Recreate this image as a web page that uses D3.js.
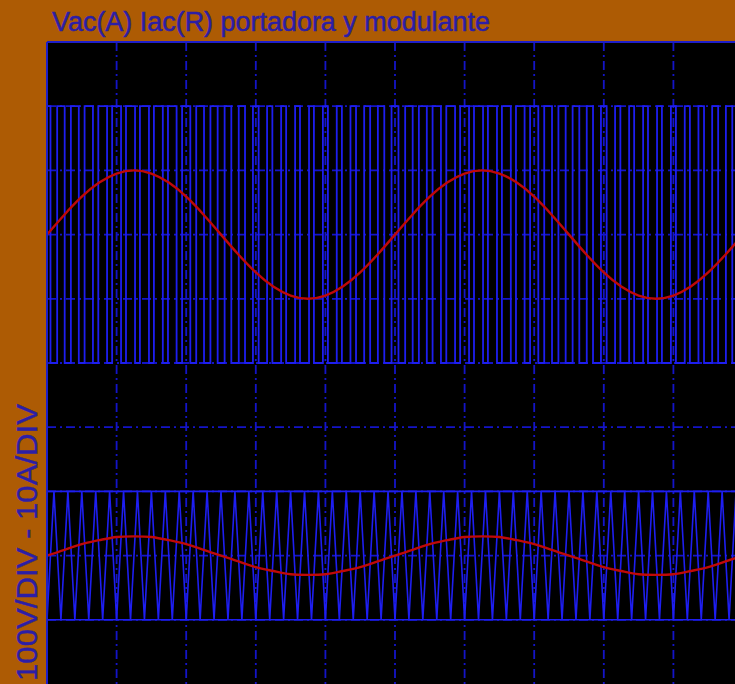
<!DOCTYPE html>
<html>
<head>
<meta charset="utf-8">
<script src="https://cdn.jsdelivr.net/npm/d3@7"></script>
<style>
  body { margin: 0; background: #ad5b04; }
  svg { display: block; }
</style>
</head>
<body>
<svg id="scope" width="735" height="684"></svg>
<script>
// time axis in divisions (10 div across the screen)
var sampleX = [0, 0.25, 0.5, 0.75, 1, 1.25, 1.5, 1.75, 2, 2.25, 2.5, 2.75, 3, 3.25, 3.5, 3.75, 4, 4.25, 4.5, 4.75,
  5, 5.25, 5.5, 5.75, 6, 6.25, 6.5, 6.75, 7, 7.25, 7.5, 7.75, 8, 8.25, 8.5, 8.75, 9, 9.25, 9.5, 9.75, 10];

// red traces, read in screen divisions
var iacUpper = [2.00, 2.31, 2.59, 2.81, 2.95, 3.00, 2.95, 2.81, 2.59, 2.31, 2.00, 1.69, 1.41, 1.19, 1.05, 1.00, 1.05, 1.19, 1.41, 1.69,
  2.00, 2.31, 2.59, 2.81, 2.95, 3.00, 2.95, 2.81, 2.59, 2.31, 2.00, 1.69, 1.41, 1.19, 1.05, 1.00, 1.05, 1.19, 1.41, 1.69, 2.00];
var modulante = [-3.00, -2.91, -2.82, -2.76, -2.71, -2.70, -2.71, -2.76, -2.82, -2.91, -3.00, -3.09, -3.18, -3.24, -3.29, -3.30, -3.29, -3.24, -3.18, -3.09,
  -3.00, -2.91, -2.82, -2.76, -2.71, -2.70, -2.71, -2.76, -2.82, -2.91, -3.00, -3.09, -3.18, -3.24, -3.29, -3.30, -3.29, -3.24, -3.18, -3.09, -3.00];

// Vac switching instants (div), trace starts at the high level
var vacEdges = [0.050, 0.146, 0.254, 0.343, 0.457, 0.540, 0.660, 0.737, 0.863, 0.936, 1.064, 1.135, 1.265, 1.335, 1.465, 1.536, 1.664, 1.738, 1.862,
  1.941, 2.059, 2.144, 2.256, 2.348, 2.452, 2.552, 2.648, 2.755, 2.845, 2.959, 3.041, 3.162, 3.238, 3.364, 3.436, 3.565, 3.635, 3.765, 3.835,
  3.964, 4.036, 4.163, 4.237, 4.360, 4.440, 4.557, 4.643, 4.754, 4.846, 4.950, 5.050, 5.146, 5.254, 5.343, 5.457, 5.540, 5.660, 5.737, 5.863,
  5.936, 6.064, 6.135, 6.265, 6.335, 6.465, 6.536, 6.664, 6.738, 6.862, 6.941, 7.059, 7.144, 7.256, 7.348, 7.452, 7.552, 7.648, 7.755, 7.845,
  7.959, 8.041, 8.162, 8.238, 8.364, 8.436, 8.565, 8.635, 8.765, 8.835, 8.964, 9.036, 9.163, 9.237, 9.360, 9.440, 9.557, 9.643, 9.754, 9.846, 9.950];
var vacHigh = 4, vacLow = 0;

// carrier (portadora) vertices, alternating trough / peak
var carrierX = [0, 0.1, 0.2, 0.3, 0.4, 0.5, 0.6, 0.7, 0.8, 0.9, 1, 1.1, 1.2, 1.3, 1.4, 1.5, 1.6, 1.7, 1.8, 1.9,
  2, 2.1, 2.2, 2.3, 2.4, 2.5, 2.6, 2.7, 2.8, 2.9, 3, 3.1, 3.2, 3.3, 3.4, 3.5, 3.6, 3.7, 3.8, 3.9,
  4, 4.1, 4.2, 4.3, 4.4, 4.5, 4.6, 4.7, 4.8, 4.9, 5, 5.1, 5.2, 5.3, 5.4, 5.5, 5.6, 5.7, 5.8, 5.9,
  6, 6.1, 6.2, 6.3, 6.4, 6.5, 6.6, 6.7, 6.8, 6.9, 7, 7.1, 7.2, 7.3, 7.4, 7.5, 7.6, 7.7, 7.8, 7.9,
  8, 8.1, 8.2, 8.3, 8.4, 8.5, 8.6, 8.7, 8.8, 8.9, 9, 9.1, 9.2, 9.3, 9.4, 9.5, 9.6, 9.7, 9.8, 9.9, 10];
var carrierLow = -4, carrierHigh = -2;

var gridX = [1, 2, 3, 4, 5, 6, 7, 8, 9];
var gridY = [-4, -3, -2, -1, 0, 1, 2, 3, 4];

var titleText = "Vac(A) Iac(R) portadora y modulante";
var axisText = "100V/DIV - 10A/DIV";

var svg = d3.select("svg#scope");
var x = d3.scaleLinear().domain([0, 10]).range([47, 743]);
var y = d3.scaleLinear().domain([-5, 5]).range([684, 42]);

svg.append("rect")
   .attr("x", x(0)).attr("y", y(5))
   .attr("width", x(10) - x(0)).attr("height", y(-5) - y(5))
   .attr("fill", "#000");

svg.append("clipPath").attr("id", "screen")
   .append("rect")
   .attr("x", x(0)).attr("y", y(5))
   .attr("width", x(10) - x(0)).attr("height", y(-5) - y(5));

var screen = svg.append("g").attr("clip-path", "url(#screen)");

// dashed graticule
screen.append("g").selectAll("line").data(gridX).join("line")
   .attr("x1", d => x(d)).attr("x2", d => x(d))
   .attr("y1", y(5)).attr("y2", y(-5))
   .attr("stroke", "#1414c8").attr("stroke-width", 1.8)
   .attr("stroke-dasharray", "9,4,2,4");
screen.append("g").selectAll("line").data(gridY).join("line")
   .attr("x1", x(0)).attr("x2", x(10))
   .attr("y1", d => y(d)).attr("y2", d => y(d))
   .attr("stroke", "#1414c8").attr("stroke-width", 1.8)
   .attr("stroke-dasharray", "9,4,2,4");

// Vac switched voltage
var level = vacHigh;
var vacPts = [[0, level]];
vacEdges.forEach(function (e) {
  level = (level === vacHigh) ? vacLow : vacHigh;
  vacPts.push([e, level]);
});
vacPts.push([10, level]);
screen.append("path")
   .attr("d", d3.line().x(d => x(d[0])).y(d => y(d[1])).curve(d3.curveStepAfter)(vacPts))
   .attr("fill", "none").attr("stroke", "#1e1ef0").attr("stroke-width", 1.8);

// triangular carrier
screen.append("path")
   .attr("d", d3.line().x(d => x(d)).y((d, i) => y(i % 2 ? carrierHigh : carrierLow))(carrierX))
   .attr("fill", "none").attr("stroke", "#1e1ef0").attr("stroke-width", 1.6);
screen.append("g").selectAll("line").data([carrierLow, carrierHigh]).join("line")
   .attr("x1", x(0)).attr("x2", x(10))
   .attr("y1", d => y(d)).attr("y2", d => y(d))
   .attr("stroke", "#1e1ef0").attr("stroke-width", 1.6);

var sineLine = d3.line().x((d, i) => x(sampleX[i])).y(d => y(d)).curve(d3.curveNatural);
screen.append("path")
   .attr("d", sineLine(iacUpper))
   .attr("fill", "none").attr("stroke", "#c00808").attr("stroke-width", 2.4);
screen.append("path")
   .attr("d", sineLine(modulante))
   .attr("fill", "none").attr("stroke", "#c00808").attr("stroke-width", 2.4);

// frame edges
svg.append("line")
   .attr("x1", x(0)).attr("x2", x(10)).attr("y1", y(5)).attr("y2", y(5))
   .attr("stroke", "#1e1ec8").attr("stroke-width", 2);
svg.append("line")
   .attr("x1", x(0)).attr("x2", x(0)).attr("y1", y(5)).attr("y2", y(-5))
   .attr("stroke", "#1e1ec8").attr("stroke-width", 2);

svg.append("text")
   .attr("x", 52).attr("y", 31)
   .attr("font-family", "Liberation Sans, Arial, sans-serif")
   .attr("font-size", 27)
   .attr("textLength", 438).attr("lengthAdjust", "spacingAndGlyphs")
   .attr("fill", "#2c1ea6")
   .attr("stroke", "#2c1ea6").attr("stroke-width", 0.5)
   .text(titleText);

svg.append("text")
   .attr("transform", "translate(37,681) rotate(-90)")
   .attr("font-family", "Liberation Sans, Arial, sans-serif")
   .attr("font-size", 30)
   .attr("textLength", 277).attr("lengthAdjust", "spacingAndGlyphs")
   .attr("fill", "#2c1ea6")
   .attr("stroke", "#2c1ea6").attr("stroke-width", 0.4)
   .text(axisText);
</script>
</body>
</html>
